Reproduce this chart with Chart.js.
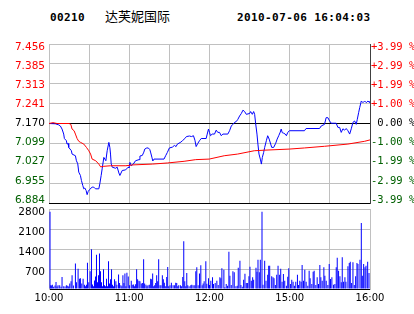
<!DOCTYPE html>
<html><head><meta charset="utf-8">
<script src="https://cdn.jsdelivr.net/npm/chart.js@4.4.0/dist/chart.umd.min.js"></script>
<style>
html,body{margin:0;padding:0;background:#fff;width:414px;height:314px;overflow:hidden;}
#wrap{position:relative;width:414px;height:314px;}
canvas{position:absolute;left:0;top:0;}
.hd{position:absolute;white-space:nowrap;color:#000;}
.mono{font-family:"DejaVu Sans Mono";font-weight:bold;font-size:11px;line-height:11px;letter-spacing:0.4px;top:12px;}
.cn{font-family:"Noto Sans CJK SC";font-size:13px;line-height:13px;top:9px;left:105px;}
</style></head>
<body><div id="wrap">
<div class="hd mono" id="code" style="left:50px"></div>
<div class="hd cn" id="name"></div>
<div class="hd mono" id="stamp" style="left:237px"></div>
<canvas id="pc" width="414" height="314"></canvas>
<canvas id="vc" width="414" height="314"></canvas>
</div>
<script>
const stockCode = '00210';
const stockName = '达芙妮国际';
const stampText = '2010-07-06 16:04:03';

const timeTicks = [0,30,60,90,120,150,180,210,240];
const timeLabels = ['10:00','','11:00','','12:00','','15:00','','16:00'];

const priceTicks = [6.884,6.955,7.027,7.099,7.170,7.241,7.313,7.385,7.456];
const priceTickLabels = ['6.884','6.955','7.027','7.099','7.170','7.241','7.313','7.385','7.456'];
const pctLabels = ['-3.99 %','-2.99 %','-1.99 %','-1.00 %',' 0.00 %','+1.00 %','+1.99 %','+2.99 %','+3.99 %'];
const prevClose = 7.170;

const volTicks = [0,700,1400,2100,2800];
const volTickLabels = ['','700','1400','2100','2800'];

// trading minutes since 10:00 (lunch break removed)
const priceMinutes = [0,4.7,7.3,8.5,9.75,11,11.5,13,13.5,14.3,
14.75,16.75,17.25,19.75,20.5,21.5,22.25,23.5,24.25,25.25,
26,26.75,27.75,28.5,29.25,30.25,32.25,33.5,34.75,37.25,
38,39,39.75,41,41.75,42.5,43.5,44.75,45.5,46,
46.5,47.25,49.75,51,52.25,53,54.75,57.25,59.25,59.8,
60.5,61.5,63,64.7,67.3,68,69.75,70.9,71.6,73.1,
74.25,75.4,76.1,76.9,77.6,78.5,86,87.2,88.5,90,
92.25,93.75,95,96,98.6,99.75,101.6,102.75,105,106.5,
108,109.1,110,111.2,112.5,113.8,117.5,118.3,119.25,120,
120.75,122,123.75,125,126.2,127.5,128.8,130,133.7,135,
136.3,137.5,138.75,140,141.2,142.5,143.8,145,146.25,147.5,
150,150.75,152,153,153.75,154.5,155.5,156.2,157,158,
158.8,159.5,160.5,161.25,162.5,163.5,164.6,165.75,166.5,168,
169.5,170.6,171.75,172.9,173.6,174.4,175.5,176.6,177.5,178.5,
179.8,191,192.2,202.3,203.5,206,207.2,208.5,209.8,211,
214.7,216,217.3,218.5,219.75,221,222.2,223.5,224.8,226,
227.25,228.5,229.7,230.5,231.5,232.3,233.5,234.75,236,237.2,
238.5,239.6,240];
const priceValues = [7.170,7.169,7.165,7.161,7.150,7.132,7.116,7.108,7.096,7.098,
7.084,7.072,7.060,7.054,7.036,7.025,6.995,6.983,6.965,6.947,
6.935,6.938,6.929,6.914,6.925,6.932,6.941,6.941,6.935,6.935,
6.953,6.983,7.007,7.048,7.042,7.036,7.072,7.102,7.084,7.060,
7.025,7.013,7.009,7.013,6.992,6.983,7.001,7.003,7.013,7.010,
7.030,7.018,7.024,7.036,7.040,7.053,7.055,7.067,7.078,7.082,
7.082,7.076,7.064,7.049,7.035,7.042,7.042,7.054,7.066,7.082,
7.085,7.091,7.087,7.096,7.103,7.108,7.116,7.123,7.125,7.123,
7.126,7.110,7.087,7.098,7.108,7.116,7.116,7.132,7.150,7.138,
7.126,7.132,7.132,7.146,7.138,7.138,7.126,7.132,7.132,7.144,
7.161,7.167,7.174,7.177,7.185,7.197,7.206,7.218,7.213,7.203,
7.206,7.213,7.203,7.213,7.203,7.170,7.132,7.096,7.060,7.042,
7.024,7.048,7.066,7.084,7.108,7.126,7.114,7.096,7.084,7.084,
7.099,7.114,7.126,7.139,7.150,7.137,7.135,7.132,7.126,7.138,
7.144,7.144,7.152,7.152,7.161,7.167,7.191,7.191,7.179,7.171,
7.171,7.156,7.156,7.138,7.151,7.146,7.152,7.144,7.132,7.151,
7.174,7.179,7.167,7.185,7.209,7.227,7.251,7.245,7.251,7.245,
7.251,7.245,7.251];

const avgMinutes = [0,3,6,15,16.3,17.25,18.75,19.75,21,22.25,
23.6,26,28,29.75,31.1,32.25,34.9,37.25,38.6,41,
46,57.5,62.5,77.25,88.5,101,109.7,119.8,131,141,
153.5,161,179.8,191,206,223.5,236,240];
const avgValues = [7.170,7.173,7.170,7.170,7.167,7.150,7.144,7.132,7.116,7.106,
7.102,7.096,7.084,7.072,7.060,7.042,7.036,7.024,7.014,7.016,
7.018,7.018,7.021,7.024,7.028,7.034,7.040,7.042,7.054,7.060,
7.072,7.074,7.078,7.082,7.088,7.096,7.106,7.111];

const volMinutes = [0.75,1.25,1.75,2.5,3.5,4.5,5.25,6,6.75,8,
9,9.75,11,12,13,14,14.75,15.5,16.5,17.25,
18.25,19.75,20.5,21.75,22.75,23.5,24.5,25.5,26.5,27.25,
28,28.75,29.75,30.75,31.75,32.5,33.25,34,34.75,35.5,
36.25,37,37.75,38.5,39.25,40,40.75,41.5,42.25,43,
43.75,44.5,45.25,46,46.75,47.5,48.25,49,50,50.75,
52,52.75,53.75,54.5,55.25,56,56.75,57.5,58.25,59.25,
60.25,61.5,62.25,63.25,64,64.75,65.5,66.25,67.25,68,
69,70,70.75,71.5,72.5,73.25,74,75,76,76.75,
77.5,78.25,79,79.75,80.5,81.25,82,83,83.75,84.75,
85.5,86.25,87.25,88,88.75,89.5,90.5,91.5,92.75,93.75,
94.75,95.5,96.25,97,98.25,99,100,100.75,101.5,102.25,
103,103.75,104.75,106,106.75,107.75,109,109.75,110.5,111.5,
112.5,113.5,114.5,115.25,116,117.25,118,
119.25,120,121,122.25,123,124.25,125.5,126.5,127.75,128.5,
129.25,130.75,131.5,132.5,133.5,134.5,135.25,136.25,137.5,138.5,
139.75,140.75,141.5,142.75,143.5,144.5,145.5,146.5,147.5,148.5,
149.5,150.25,151.25,152.25,153,154.75,155.5,156.25,157.25,158,
159.25,160,161.25,162.25,163.5,164.25,165,166.5,167.5,168.25,
169.25,170.25,171.25,172.25,173.25,174.25,175.25,176.25,177.5,178.5,
179.25,180.5,181.5,182.5,183.5,184.5,185.75,186.5,187.5,188.5,
189.25,190.25,191.25,192.25,193.5,194.5,195.25,196.5,197.5,198.25,
199.5,200.5,201.5,202.5,203.25,204.25,205.5,206.25,207.25,208.5,
209.5,210.5,211.5,212.75,213.75,214.75,215.5,216.5,217.5,218.5,
219.25,220.25,221.25,222,223.5,224.5,225.25,226.25,227.25,228.25,
229.25,230.25,231,232.5,233.5,234.25,235.25,236.25,237,238.25,
239.25];
const volValues = [2700,130,120,150,80,120,245,90,130,130,
80,420,100,90,130,110,90,190,270,480,
120,890,240,710,360,380,190,360,150,100,
150,920,240,620,1390,160,100,300,440,1200,
240,480,1240,620,240,100,690,130,100,360,
100,970,190,340,690,150,100,340,270,150,
510,210,130,100,480,210,540,100,570,440,
130,290,150,160,100,170,690,340,290,270,
190,210,1040,190,150,100,130,150,360,340,
540,100,130,210,480,270,1040,130,130,480,
340,220,100,420,770,100,130,220,130,130,
220,210,100,130,130,100,420,1670,270,100,
560,130,100,130,150,130,130,620,760,130,
540,830,130,190,270,970,180,
373,140,292,408,175,210,292,140,408,373,
723,677,58,175,117,1307,467,140,618,583,
93,117,747,992,140,82,327,537,210,210,
443,782,292,408,327,747,607,1027,583,1027,
2707,152,992,292,502,817,817,443,408,373,
140,502,817,502,712,257,525,292,117,432,
723,175,327,257,117,257,502,140,292,257,
840,292,677,257,117,642,373,175,607,642,
140,408,175,840,408,292,758,467,292,140,
875,350,408,152,175,758,1097,642,443,233,
1108,257,408,257,793,910,957,210,933,140,
443,910,875,1027,2310,467,875,758,817,957,
560];

document.getElementById('code').textContent = stockCode;
document.getElementById('name').textContent = stockName;
document.getElementById('stamp').textContent = stampText;

const RED = '#ff0000', GREEN = '#006000', BLUE = '#0000ff', GRID = '#c0c0c0';
const toXY = (xs, ys) => xs.map((x, i) => ({x: x, y: ys[i]}));
const setTicks = arr => axis => { axis.ticks = arr.map(v => ({value: v})); };
const sideColor = ctx => {
  const i = ctx.index;
  return i > 4 ? RED : (i === 4 ? '#000' : GREEN);
};
// price labels are drawn slightly inside the plot edges (like the original)
const pMin = priceTicks[0], pMax = priceTicks[priceTicks.length - 1];
const labelInset = 0.021 * (pMax - pMin);

new Chart(document.getElementById('pc'), {
  type: 'line',
  data: {datasets: [
    {data: toXY(avgMinutes, avgValues), borderColor: RED, borderWidth: 1, pointRadius: 0, tension: 0, yAxisID: 'y'},
    {data: toXY(priceMinutes, priceValues), borderColor: BLUE, borderWidth: 1, pointRadius: 0, tension: 0, yAxisID: 'y'}
  ]},
  options: {
    responsive: false, animation: false, devicePixelRatio: 1, events: [],
    layout: {padding: {top: 44, bottom: 111, left: 0, right: 0}},
    plugins: {legend: {display: false}, tooltip: {enabled: false}},
    scales: {
      x: {type: 'linear', min: 0, max: 240,
        afterBuildTicks: setTicks(timeTicks),
        afterFit: a => { a.height = 0; },
        ticks: {display: false},
        grid: {color: GRID, drawTicks: false, z: -2},
        border: {color: '#000'}},
      y: {position: 'left', min: pMin, max: pMax,
        afterBuildTicks: setTicks(priceTicks),
        afterFit: a => { a.width = 0; },
        ticks: {display: false},
        grid: {drawTicks: false, color: ctx => (ctx.tick && (ctx.tick.value === prevClose || ctx.index === 0)) ? '#000' : GRID},
        border: {display: false}},
      yl: {position: 'left', min: pMin - labelInset, max: pMax + labelInset,
        afterBuildTicks: setTicks(priceTicks),
        afterFit: a => { a.width = 49; },
        ticks: {padding: 4, autoSkip: false, font: {family: 'DejaVu Sans', size: 10.5}, color: sideColor,
          callback: (v, i) => priceTickLabels[i]},
        grid: {display: false, drawTicks: false},
        border: {display: false}},
      y2: {position: 'right', min: pMin - labelInset, max: pMax + labelInset,
        afterBuildTicks: setTicks(priceTicks),
        afterFit: a => { a.width = 44; },
        ticks: {padding: 1, autoSkip: false, font: {family: 'DejaVu Sans Mono', size: 10.5}, color: sideColor,
          callback: (v, i) => pctLabels[i]},
        grid: {display: false, drawTicks: false},
        border: {color: '#404040'}}
    }
  }
});

new Chart(document.getElementById('vc'), {
  type: 'bar',
  data: {datasets: [
    {data: toXY(volMinutes, volValues), backgroundColor: BLUE, borderWidth: 0, barThickness: 1, inflateAmount: 0}
  ]},
  options: {
    responsive: false, animation: false, devicePixelRatio: 1, events: [],
    layout: {padding: {top: 209, bottom: 0, left: 0, right: 0}},
    plugins: {legend: {display: false}, tooltip: {enabled: false}},
    scales: {
      x: {type: 'linear', min: 0, max: 240, offset: false,
        afterBuildTicks: setTicks(timeTicks),
        afterFit: a => { a.height = 25; },
        ticks: {autoSkip: false, maxRotation: 0, padding: 3, color: '#000',
          font: {family: 'DejaVu Sans', size: 10}, callback: (v, i) => timeLabels[i]},
        grid: {color: GRID, drawTicks: false, offset: false, z: -2},
        border: {color: '#000'}},
      y: {position: 'left', min: 0, max: 2800,
        afterBuildTicks: setTicks(volTicks),
        afterFit: a => { a.width = 49; },
        ticks: {padding: 4, labelOffset: 3, autoSkip: false, color: '#000',
          font: {family: 'DejaVu Sans', size: 10.5}, callback: (v, i) => volTickLabels[i]},
        grid: {drawTicks: false, color: GRID},
        border: {color: GRID}},
      y2: {position: 'right', min: 0, max: 2800,
        afterFit: a => { a.width = 44; },
        ticks: {display: false},
        grid: {display: false, drawTicks: false},
        border: {color: GRID}}
    }
  }
});
</script>
</body></html>
